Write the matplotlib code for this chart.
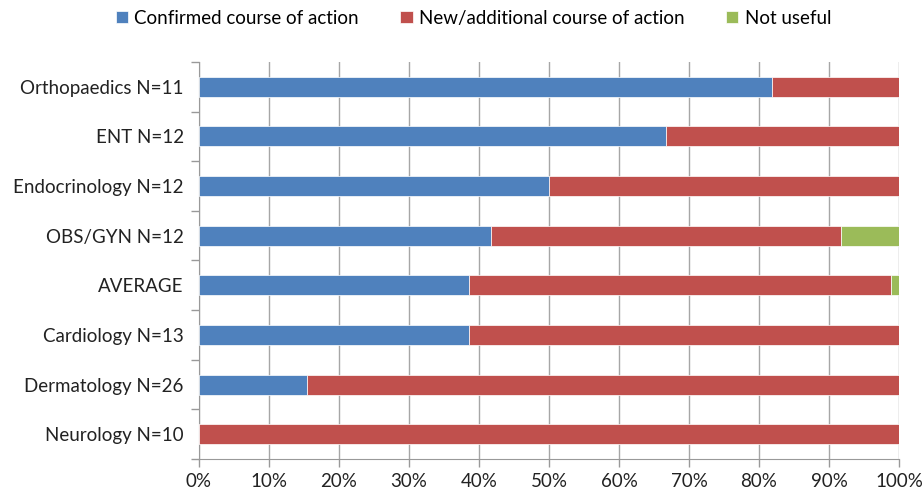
import matplotlib.pyplot as plt
import numpy as np

plt.rcParams['font.family'] = ['Lato', 'DejaVu Sans']

kategorije = ['Orthopaedics N=11', 'ENT N=12', 'Endocrinology N=12', 'OBS/GYN N=12',
              'AVERAGE', 'Cardiology N=13', 'Dermatology N=26', 'Neurology N=10']
potvrdjeno = [81.8, 66.7, 50.0, 41.7, 38.5, 38.5, 15.4, 0.0]
novo = [18.2, 33.3, 50.0, 50.0, 60.4, 61.5, 84.6, 100.0]
nekorisno = [0.0, 0.0, 0.0, 8.3, 1.1, 0.0, 0.0, 0.0]
oznake = ['Confirmed course of action', 'New/additional course of action', 'Not useful']
boje = ['#4f81bd', '#c0504d', '#9bbb59']

fig = plt.figure(figsize=(9.23, 4.91), dpi=100)
ax = fig.add_axes([0.2156, 0.065, 0.7584, 0.809])

y = np.arange(len(kategorije))
potvrdjeno = np.array(potvrdjeno)
novo = np.array(novo)
nekorisno = np.array(nekorisno)

ax.barh(y, potvrdjeno, height=0.4, color=boje[0], edgecolor='white', linewidth=0.5, label=oznake[0], zorder=3)
ax.barh(y, novo, left=potvrdjeno, height=0.4, color=boje[1], edgecolor='white', linewidth=0.5, label=oznake[1], zorder=3)
ax.barh(y, nekorisno, left=potvrdjeno + novo, height=0.4, color=boje[2], edgecolor='white', linewidth=0.5, label=oznake[2], zorder=3)

ax.set_ylim(len(kategorije) - 0.5, -0.5)
ax.set_xlim(0, 100)
ax.set_yticks(y)
ax.set_yticklabels(kategorije, fontsize=13.5, color='#222222')
ax.set_yticks(np.arange(-0.5, len(kategorije), 1), minor=True)
ax.tick_params(axis='y', which='major', length=0, pad=11)
ax.tick_params(axis='y', which='minor', length=6, color='#999999', width=1)

ax.set_xticks(np.arange(0, 101, 10))
ax.set_xticklabels([f'{v}%' for v in range(0, 101, 10)], fontsize=13.5, color='#222222')
ax.tick_params(axis='x', length=6, color='#999999', width=1, pad=4)
ax.xaxis.grid(True, color='#a6a6a6', linewidth=1, zorder=0)

for s in ['top', 'right']:
    ax.spines[s].set_visible(False)
ax.spines['left'].set_color('#999999')
ax.spines['bottom'].set_color('#999999')

fig.legend(loc='upper center', bbox_to_anchor=(0.513, 1.015), ncol=3, frameon=False,
           fontsize=13.5, handlelength=0.65, handleheight=0.65, handletextpad=0.35, columnspacing=2.2)

fig.savefig('out.png', dpi=100)
